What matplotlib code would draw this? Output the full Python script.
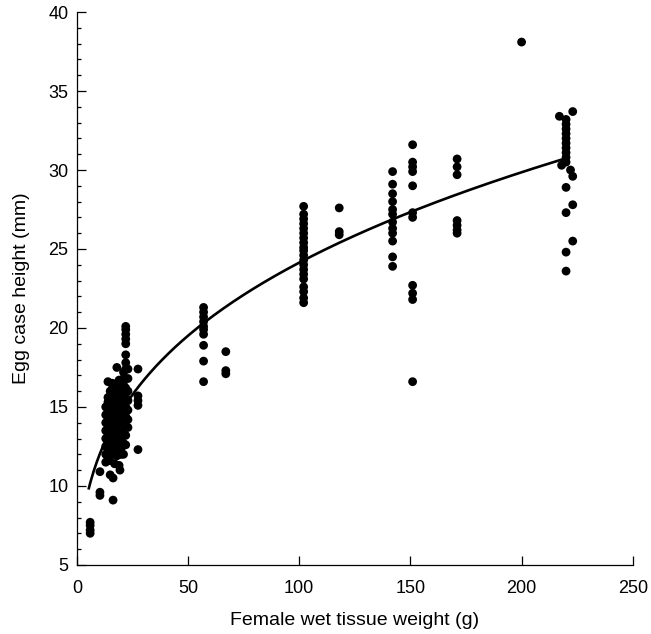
import matplotlib
matplotlib.use("Agg")
import matplotlib.pyplot as plt
import numpy as np
from matplotlib.ticker import MultipleLocator

plt.rcParams['font.family'] = ['Liberation Sans', 'DejaVu Sans']

# ---- data: (weight g, egg case height mm) ----
weights = [
    6, 6, 6, 6,
    10.4, 10.4, 10.4, 16.3, 16.3, 19.4,
    13, 13, 13, 13, 13, 13, 13, 13,
    14, 14, 14, 14, 14, 14, 14, 14, 14, 14,
    15, 15, 15, 15, 15, 15, 15, 15, 15, 15, 15,
    16, 16, 16, 16, 16, 16, 16, 16, 16, 16,
    17, 17, 17, 17, 17, 17, 17, 17, 17,
    18, 18, 18, 18, 18, 18, 18, 18, 18, 18,
    19, 19, 19, 19, 19, 19, 19, 19, 19, 19,
    20, 20, 20, 20, 20, 20, 20, 20, 20,
    21, 21, 21, 21, 21, 21, 21, 21, 21, 21,
    22, 22, 22, 22, 22, 22, 22, 22, 22, 22, 22, 22, 22, 22, 22, 22,
    23, 23, 23, 23, 23, 23, 23,
    27.5, 27.5, 27.5, 27.5, 27.5,
    57, 57, 57, 57, 57, 57, 57, 57, 57, 57,
    67, 67, 67,
    102, 102, 102, 102, 102, 102, 102, 102, 102, 102,
    102, 102, 102, 102, 102, 102, 102, 102, 102, 102,
    118, 118, 118,
    142, 142, 142, 142, 142, 142, 142, 142, 142, 142, 142, 142,
    151, 151, 151, 151, 151, 151, 151, 151, 151, 151, 151,
    171, 171, 171, 171, 171, 171, 171,
    200,
    223, 217, 220, 220, 220, 220, 220, 220, 220, 220, 220, 220, 218,
    222, 223, 220, 223, 220, 223, 220, 220,
]
heights = [
    7.7, 7.5, 7.2, 7.0,
    10.9, 9.6, 9.4, 9.1, 10.5, 11.0,
    11.5, 12.0, 12.5, 13.0, 13.5, 14.0, 14.5, 15.0,
    11.8, 12.3, 12.8, 13.3, 13.8, 14.3, 14.8, 15.3, 15.6, 16.6,
    10.7, 11.6, 12.2, 12.7, 13.2, 13.7, 14.2, 14.7, 15.2, 15.7, 16.0,
    12.0, 12.5, 13.0, 13.5, 14.0, 14.5, 15.0, 15.5, 16.2, 16.5,
    11.4, 12.2, 12.8, 13.4, 14.0, 14.6, 15.1, 15.6, 16.1,
    11.9, 12.4, 13.0, 13.6, 14.2, 14.8, 15.3, 15.8, 16.3, 17.5,
    11.3, 12.0, 12.6, 13.2, 13.8, 14.4, 15.0, 15.6, 16.2, 16.7,
    12.0, 12.4, 13.0, 13.6, 14.2, 14.8, 15.4, 16.0, 16.5,
    12.0, 12.7, 13.3, 14.0, 14.6, 15.2, 15.8, 16.4, 16.8, 17.2,
    12.6, 13.2, 13.8, 14.4, 15.0, 15.6, 16.2, 16.8, 17.4, 17.8, 18.3,
    19.0, 19.3, 19.6, 19.9, 20.1,
    13.7, 14.2, 14.8, 15.4, 16.0, 16.8, 17.4,
    12.3, 15.1, 15.4, 15.7, 17.4,
    21.3, 21.0, 20.7, 20.4, 20.1, 19.9, 19.6, 18.9, 17.9, 16.6,
    18.5, 17.3, 17.1,
    27.7, 27.2, 26.9, 26.6, 26.3, 26.0, 25.7, 25.4, 25.1, 24.9,
    24.6, 24.3, 24.0, 23.7, 23.4, 23.1, 22.6, 22.3, 21.9, 21.6,
    27.6, 26.1, 25.9,
    29.9, 29.1, 28.5, 28.0, 27.5, 27.2, 26.7, 26.3, 26.0, 25.5, 24.5, 23.9,
    31.6, 30.5, 30.2, 29.9, 29.0, 27.3, 27.0, 22.7, 22.2, 21.8, 16.6,
    30.7, 30.2, 29.7, 26.8, 26.5, 26.2, 26.0,
    38.1,
    33.7, 33.4, 33.2, 32.9, 32.6, 32.3, 32.0, 31.7, 31.4, 31.1, 30.8, 30.5, 30.3,
    30.0, 29.6, 28.9, 27.8, 27.3, 25.5, 24.8, 23.6,
]

# power-law fit shown as the curve: height = FIT_A * weight ** FIT_B
FIT_A = 5.87
FIT_B = 0.307
FIT_XMIN, FIT_XMAX = 5.4, 221

x_ticks = [0, 50, 100, 150, 200, 250]
y_ticks = [5, 10, 15, 20, 25, 30, 35, 40]

fig = plt.figure(figsize=(6.51, 6.34), dpi=100)
ax = fig.add_axes([0.118, 0.109, 0.854, 0.872])

ax.scatter(weights, heights, s=40, color='black', edgecolors='none', zorder=3)
xf = np.linspace(FIT_XMIN, FIT_XMAX, 300)
ax.plot(xf, FIT_A * xf ** FIT_B, color='black', lw=1.9, zorder=2)

ax.set_xlim(0, 250)
ax.set_ylim(5, 40)
ax.set_xticks(x_ticks)
ax.set_yticks(y_ticks)
ax.yaxis.set_minor_locator(MultipleLocator(1))

for s in ['top', 'right']:
    ax.spines[s].set_visible(False)
for s in ['left', 'bottom']:
    ax.spines[s].set_linewidth(0.9)

ax.tick_params(axis='both', which='major', direction='in', length=6.2, width=0.9,
               labelsize=13)
ax.tick_params(axis='x', which='major', pad=11)
ax.tick_params(axis='y', which='major', pad=6)
ax.tick_params(axis='y', which='minor', direction='in', length=3.2, width=0.9)

ax.set_xlabel('Female wet tissue weight (g)', fontsize=14, labelpad=11)
ax.set_ylabel('Egg case height (mm)', fontsize=14, labelpad=13)

fig.savefig('out.png', dpi=100)
